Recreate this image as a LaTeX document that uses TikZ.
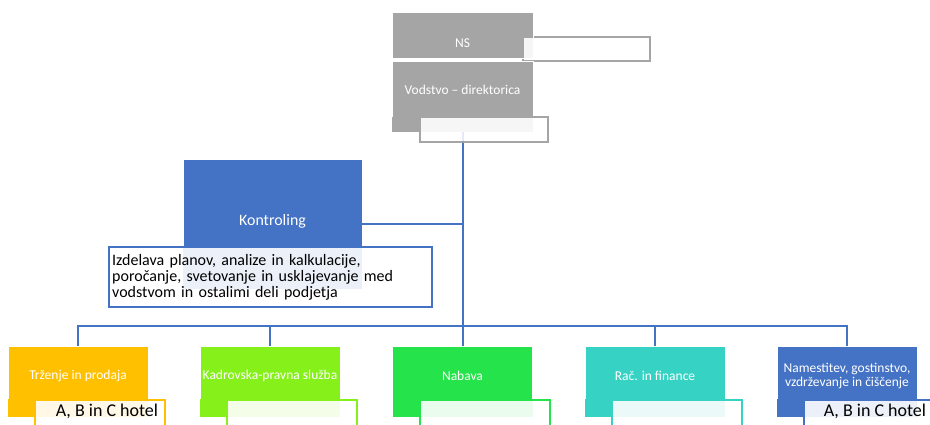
\documentclass[tikz,border=0pt]{standalone}
\usepackage{fontspec}
\setmainfont{Carlito}
\definecolor{grayb}{HTML}{A5A5A5}
\definecolor{blueb}{HTML}{4472C4}
\definecolor{orangeb}{HTML}{FFC000}
\definecolor{limeb}{HTML}{86F01A}
\definecolor{greenb}{HTML}{25E34B}
\definecolor{tealb}{HTML}{36D3C4}
\begin{document}
\begin{tikzpicture}[x=1pt,y=-1pt,
  box/.style={rectangle, inner sep=0pt, draw=white, line width=0.6pt, fill=#1},
  tbord/.style={rectangle, inner sep=0pt, draw=#1, line width=2pt, fill=white},
  tfill/.style={rectangle, inner sep=0pt, fill=white, fill opacity=0.9},
  lab/.style={text=white, inner sep=0pt, font=\fontsize{13.5}{14.5}\selectfont, align=center},
  hot/.style={text=black, inner sep=0pt, font=\fontsize{18}{19}\selectfont},
  conn/.style={draw=blueb, line width=2pt}]
\useasboundingbox[fill=white] (0,0) rectangle (930,424);
% ---- top boxes
\node[tbord=grayb, minimum width=127pt, minimum height=24pt] (nstb) at (586.5,49) {};
\node[box=grayb, minimum width=141pt, minimum height=46pt] (ns) at (462.5,35) {};
\node[tfill, minimum width=125pt, minimum height=22pt] (nstf) at (586.5,49) {};
\node[lab] (nsl) at (462.5,43) {NS};
% vertical connector
\coordinate (bus) at (462.5,326);
\node[box=grayb, minimum width=141pt, minimum height=71pt] (vod) at (462.5,96.5) {};
\node[lab] (vodl) at (462.5,90) {Vodstvo -- direktorica};
% ---- bottom boxes (positions)
\node[box=orangeb, minimum width=140pt, minimum height=71pt] (tr) at (78,381.5) {};
\node[box=limeb, minimum width=140pt, minimum height=71pt] (kd) at (270,381.5) {};
\node[box=greenb, minimum width=140pt, minimum height=71pt] (nab) at (462.5,381.5) {};
\node[box=tealb, minimum width=140pt, minimum height=71pt] (rac) at (655,381.5) {};
\node[box=blueb, minimum width=140pt, minimum height=71pt] (nam) at (847,381.5) {};
% connectors
\draw[conn] (vod.south) -- (nab.north);
\draw[conn] (tr.north) |- (nam.north |- bus) -- (nam.north);
\draw[conn] (kd.north) -- (kd.north |- bus);
\draw[conn] (rac.north) -- (rac.north |- bus);
% vodstvo text box
\node[tbord=grayb, minimum width=128pt, minimum height=25pt] (vodtb) at (484,129.5) {};
\node[box=grayb, draw=none, minimum width=141pt, minimum height=15pt] (vodc) at (462.5,124.5) {};
\node[tfill, minimum width=126pt, minimum height=23pt] (vodtf) at (484,129.5) {};
\fill[blueb, fill opacity=0.15] ([xshift=-1pt]vod.south) rectangle ([xshift=1pt]vodtb.south -| vod.south);
% ---- Kontroling
\node[box=blueb, minimum width=179pt, minimum height=130pt] (kon) at (272.5,224) {};
\node[lab] (konl) at (272.5,221) {\fontsize{15.9}{17}\selectfont Kontroling};
\draw[conn] (kon.east) -- (kon.east -| vod.south);
\node[tbord=blueb, minimum width=323pt, minimum height=60pt] (kontb) at (270.5,277) {};
\node[box=blueb, draw=none, minimum width=179pt, minimum height=42pt] (konc) at (272.5,268) {};
\node[tfill, minimum width=321pt, minimum height=58pt] (kontf) at (270.5,277) {};
\node[anchor=west, inner sep=0pt, text width=318pt, align=left, font=\fontsize{16}{16.2}\selectfont] (kontx) at (112,277.5)
  {Izdelava planov, analize in kalkulacije,\\poročanje, svetovanje in usklajevanje med\\vodstvom in ostalimi deli podjetja};
% ---- bottom text boxes
\foreach \n/\c/\x in {tr/orangeb/100, kd/limeb/292, nab/greenb/484.5, rac/tealb/677, nam/blueb/869}{
  \node[tbord=\c, minimum width=130pt, minimum height=30pt] (\n tb) at (\x,415) {};
}
\node[box=orangeb, draw=none, minimum width=140pt, minimum height=18pt] (trc) at (78,408) {};
\node[box=limeb, draw=none, minimum width=140pt, minimum height=18pt] (kdc) at (270,408) {};
\node[box=greenb, draw=none, minimum width=140pt, minimum height=18pt] (nabc) at (462.5,408) {};
\node[box=tealb, draw=none, minimum width=140pt, minimum height=18pt] (racc) at (655,408) {};
\node[box=blueb, draw=none, minimum width=140pt, minimum height=18pt] (namc) at (847,408) {};
\foreach \n/\x in {tr/100, kd/292, nab/484.5, rac/677, nam/869}{
  \node[tfill, minimum width=128pt, minimum height=28pt] (\n tf) at (\x,415) {};
}
\node[lab] (trl) at (78,376) {Trženje in prodaja};
\node[lab] (kdl) at (270,376) {Kadrovska-pravna služba};
\node[lab] (nabl) at (462.5,376) {Nabava};
\node[lab] (racl) at (655,376) {Rač. in finance};
\node[lab] (naml) at (847,376) {Namestitev, gostinstvo,\\vzdrževanje in čiščenje};
\node[hot] (trh) at (107,411) {A, B in C hotel};
\node[hot] (namh) at (875,411) {A, B in C hotel};
\end{tikzpicture}
\end{document}
